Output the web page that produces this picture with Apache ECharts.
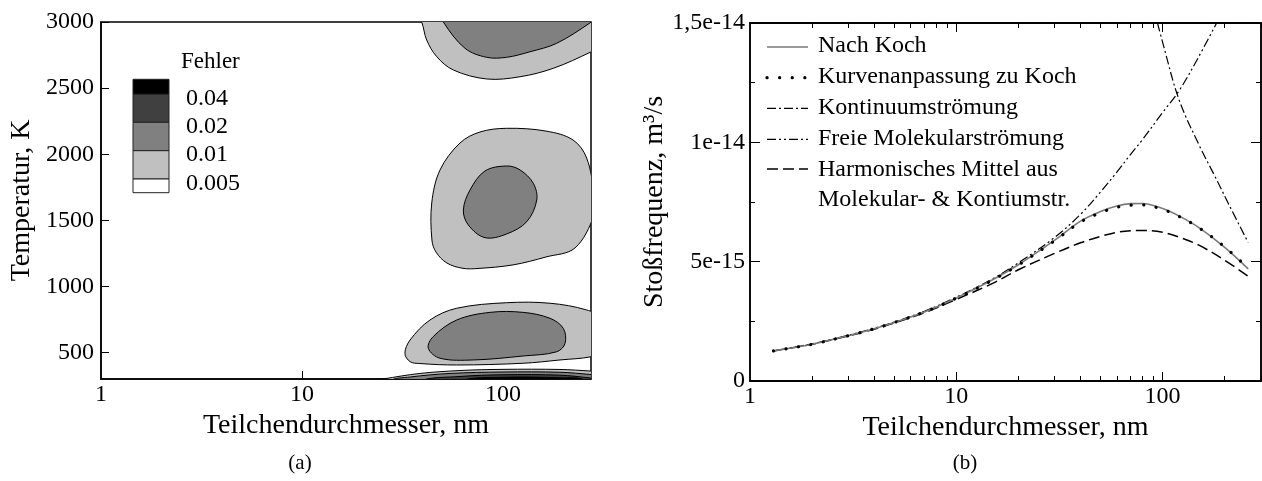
<!DOCTYPE html>
<html>
<head>
<meta charset="utf-8">
<script src="https://cdn.jsdelivr.net/npm/echarts@6/dist/echarts.min.js"></script>
<style>
  html, body { margin: 0; padding: 0; background: #fff; }
  #chart { width: 1262px; height: 481px; }
</style>
</head>
<body>
<div id="chart"></div>
<script>
// ---------- Panel (a): fit error over particle diameter and temperature ----------
const errorLevels = ['0.04', '0.02', '0.01', '0.005'];
const levelFills = ['#000000', '#404040', '#808080', '#c0c0c0', '#ffffff'];
const tempTicks = [500, 1000, 1500, 2000, 2500, 3000];
const diamLabelsA = [1, 10, 100];

// contour outlines, vertices as [diameter nm, temperature K]
const topOuter = [[36.5, 3090], [39.4, 3000], [41.7, 2864], [46.8, 2738], [56.6, 2637], [83, 2569], [121.6, 2586], [178, 2650], [275, 2775], [321, 2834], [321, 3090]];
const topInner = [[48.6, 3090], [50.5, 3000], [64.7, 2801], [82.9, 2733], [104.2, 2733], [136.2, 2775], [185, 2839], [275, 3000], [304, 3060], [304, 3090]];
const midOuter = [[104.3, 2196], [163.7, 2175], [222.9, 2108], [260.8, 1971], [283.6, 1692], [283.6, 1540], [228, 1291], [163.7, 1223], [112.2, 1163], [75.1, 1136], [63.2, 1137], [52.6, 1177], [46.4, 1260], [44.3, 1351], [44.2, 1631], [48.6, 1881], [61.1, 2085], [76.8, 2168]];
const midInner = [[104.3, 1911], [121.6, 1881], [141.5, 1780], [147.2, 1654], [131.3, 1490], [104.3, 1397], [81.3, 1369], [67.2, 1465], [63.5, 1578], [68.5, 1729], [81.3, 1873]];
const lowOuter = [[32.5, 494], [34.5, 595], [43.3, 746], [58.8, 835], [104.3, 877], [171.4, 873], [260.8, 822], [303.5, 761], [303.5, 504], [276.1, 469], [192.2, 444], [125.9, 419], [58.8, 406], [38.6, 417], [34.5, 431]];
const lowInner = [[42.5, 532], [44.9, 620], [58.8, 746], [86.1, 804], [125.9, 804], [171.4, 759], [199.5, 683], [203.6, 570], [185, 506], [125.9, 474], [71.2, 444], [48.6, 457]];
const bandLight = [[21.8, 281], [25.3, 300], [38.6, 342], [61.1, 364], [100, 373], [192, 372], [274, 360], [321, 353], [321, 200], [21.8, 200]];
const bandGray = [[27.4, 285], [34.5, 315], [54.5, 342], [100, 353], [192, 351], [274, 334], [321, 323], [321, 200], [27.4, 200]];
const bandDark = [[38.6, 285], [61.1, 319], [100, 332], [192, 329], [271, 308], [321, 292], [321, 200], [38.6, 200]];
const bandBlack = [[61.1, 285], [100, 313], [192, 309], [256, 292], [271, 200], [61.1, 200]];

// each region with the index of its fill in levelFills
const contourRegions = [
  [topOuter, 3], [topInner, 2],
  [midOuter, 3], [midInner, 2],
  [lowOuter, 3], [lowInner, 2],
  [bandLight, 3], [bandGray, 2], [bandDark, 1], [bandBlack, 0]
];

// ---------- Panel (b): collision frequency ----------
const diameter = [1.3, 1.5, 2, 3, 4, 5, 7, 10, 15, 20, 30, 40, 50, 60, 70, 80, 100, 120, 150, 200, 260];
// rates in units of 1e-15 m^3/s
const kochRate     = [1.26, 1.35, 1.54, 1.90, 2.19, 2.45, 2.89, 3.48, 4.24, 4.87, 5.90, 6.70, 7.10, 7.33, 7.43, 7.44, 7.23, 6.92, 6.43, 5.60, 4.70];
const fitRate      = [1.26, 1.35, 1.54, 1.90, 2.19, 2.45, 2.89, 3.47, 4.23, 4.86, 5.88, 6.66, 7.05, 7.28, 7.37, 7.38, 7.19, 6.90, 6.42, 5.62, 4.72];
const harmonicRate = [1.26, 1.35, 1.54, 1.89, 2.17, 2.43, 2.86, 3.42, 4.09, 4.66, 5.35, 5.79, 6.06, 6.23, 6.30, 6.31, 6.23, 6.03, 5.69, 5.06, 4.39];
const freeDiameter = [1.3, 1.5, 2, 3, 4, 5, 7, 10, 15, 20, 30, 40, 50, 60, 70, 80, 100, 120, 150, 200];
const freeRate     = [1.26, 1.36, 1.56, 1.92, 2.21, 2.47, 2.92, 3.51, 4.28, 4.95, 6.02, 6.98, 7.92, 8.75, 9.50, 10.12, 11.25, 12.15, 13.60, 15.65];
const contDiameter = [90, 100, 120, 150, 180, 210, 260];
const contRate     = [15.7, 14.2, 11.8, 9.9, 8.55, 7.38, 5.8];

const rateTickLabels = ['0', '5e-15', '1e-14', '1,5e-14'];
const diamLabelsB = [1, 10, 100];
const diamMajorB = [10, 100];
const diamMinorB = [2, 3, 4, 5, 6, 7, 8, 9, 20, 30, 40, 50, 60, 70, 80, 90, 200, 300];

const curveNames = ['Nach Koch', 'Kurvenanpassung zu Koch', 'Kontinuumströmung', 'Freie Molekularströmung', 'Harmonisches Mittel aus\nMolekular- & Kontiumstr.'];
const curveStyles = [
  { color: '#7a7a7a', width: 1.6, type: 'solid', cap: 'butt' },
  { color: '#000', width: 3.2, type: [0.1, 12.5], cap: 'round' },
  { color: '#000', width: 1.2, type: [9, 3, 2, 3], cap: 'butt' },
  { color: '#000', width: 1.2, type: [9, 3, 2, 3, 2, 3], cap: 'butt' },
  { color: '#000', width: 1.5, type: [11, 5], cap: 'butt' }
];

const FONT = 'Liberation Serif';
const pair = (xs, ys) => xs.map((x, i) => [x, ys[i]]);

const chart = echarts.init(document.getElementById('chart'), null, { renderer: 'canvas' });

const tickFont = { fontFamily: FONT, fontSize: 24, color: '#000' };
const nameFont = { fontFamily: FONT, fontSize: 28, color: '#000' };
const axisLine = { show: true, lineStyle: { color: '#000', width: 1.5 } };

function logAxis(grid, position, extra) {
  return Object.assign({
    type: 'log', gridIndex: grid, position: position, logBase: 10,
    min: 1, max: grid === 0 ? 274 : 300,
    axisLine: axisLine, splitLine: { show: false },
    axisTick: { show: false }, axisLabel: { show: false }
  }, extra);
}

// legend of panel (a): stacked colour boxes with level labels at their boundaries
const boxEdges = [79.3, 94.3, 122.3, 150.7, 179, 192.7];
const legendA = [];
levelFills.forEach((fill, i) => {
  legendA.push({
    type: 'rect', shape: { x: 133, y: boxEdges[i], width: 36, height: boxEdges[i + 1] - boxEdges[i] },
    style: { fill: fill, stroke: '#222', lineWidth: 1 }
  });
});
errorLevels.forEach((lab, i) => {
  legendA.push({
    type: 'text', x: 186, y: boxEdges[i + 1] + 4.5,
    style: { text: lab, font: '24px "' + FONT + '"', fill: '#000', verticalAlign: 'middle', align: 'left' }
  });
});
legendA.push({
  type: 'text', x: 181, y: 62,
  style: { text: 'Fehler', font: '23px "' + FONT + '"', fill: '#000', verticalAlign: 'middle', align: 'left' }
});

// legend of panel (b)
const legendRows = [47, 77.7, 108.3, 139.3, 169];
const legendB = [];
curveNames.forEach((name, i) => {
  const s = curveStyles[i];
  legendB.push({
    type: 'line', shape: { x1: 767, y1: legendRows[i], x2: 808, y2: legendRows[i] },
    style: { stroke: s.color, lineWidth: s.width, lineDash: s.type === 'solid' ? null : s.type, lineCap: s.cap }
  });
  legendB.push({
    type: 'text', x: 818, y: legendRows[i] - 1,
    style: { text: name, font: '24px "' + FONT + '"', fill: '#000', verticalAlign: i === 4 ? 'top' : 'middle', align: 'left', lineHeight: 30 }
  });
});
// the two-line entry starts level with its sample
legendB[legendB.length - 1].y = legendRows[4] - 14;

const panelLabels = [
  { type: 'text', x: 300, y: 463, style: { text: '(a)', font: '21px "' + FONT + '"', fill: '#000', align: 'center', verticalAlign: 'middle' } },
  { type: 'text', x: 965, y: 463, style: { text: '(b)', font: '21px "' + FONT + '"', fill: '#000', align: 'center', verticalAlign: 'middle' } }
];

function lineSeries(idx, xs, ys, z) {
  const s = curveStyles[idx];
  return {
    type: 'line', name: curveNames[idx], xAxisIndex: 1, yAxisIndex: 1,
    data: pair(xs, ys), showSymbol: false, smooth: 0.35, z: z,
    lineStyle: { color: s.color, width: s.width, type: s.type, cap: s.cap }
  };
}

const option = {
  animation: false,
  backgroundColor: '#fff',
  grid: [
    { left: 101, top: 22, width: 490, height: 357, show: true, borderColor: '#000', borderWidth: 1.5, containLabel: false, outerBoundsMode: 'none' },
    { left: 750, top: 23, width: 511, height: 358, show: true, borderColor: '#000', borderWidth: 1.5, containLabel: false, outerBoundsMode: 'none' }
  ],
  xAxis: [
    logAxis(0, 'bottom', {
      axisTick: { show: true, inside: true, length: 8, customValues: [10, 100], lineStyle: { color: '#000', width: 1 } },
      axisLabel: { show: true, customValues: diamLabelsA, margin: 4, ...tickFont },
      name: 'Teilchendurchmesser, nm', nameLocation: 'middle', nameGap: 24, nameTextStyle: nameFont
    }),
    logAxis(1, 'bottom', {
      axisTick: { show: true, inside: true, length: 9, customValues: diamMajorB, lineStyle: { color: '#000', width: 1 } },
      axisLabel: { show: true, customValues: diamLabelsB, margin: 4, ...tickFont },
      name: 'Teilchendurchmesser, nm', nameLocation: 'middle', nameGap: 26, nameTextStyle: nameFont
    }),
    logAxis(1, 'bottom', {
      axisTick: { show: true, inside: true, length: 5, customValues: diamMinorB, lineStyle: { color: '#000', width: 1 } }
    }),
    logAxis(1, 'top', {
      axisTick: { show: true, inside: true, length: 9, customValues: diamMajorB, lineStyle: { color: '#000', width: 1 } }
    }),
    logAxis(1, 'top', {
      axisTick: { show: true, inside: true, length: 5, customValues: diamMinorB, lineStyle: { color: '#000', width: 1 } }
    })
  ],
  yAxis: [
    {
      type: 'value', gridIndex: 0, position: 'left', min: 300, max: 3000,
      axisLine: axisLine, splitLine: { show: false },
      axisTick: { show: true, inside: true, length: 8, customValues: tempTicks, lineStyle: { color: '#000', width: 1 } },
      axisLabel: { show: true, customValues: tempTicks, margin: 7, ...tickFont, formatter: (v) => String(v) },
      name: 'Temperatur, K', nameLocation: 'middle', nameGap: 65, nameTextStyle: nameFont
    },
    {
      type: 'value', gridIndex: 1, position: 'left', min: 0, max: 15, interval: 5,
      axisLine: axisLine, splitLine: { show: false }, minorSplitLine: { show: false },
      axisTick: { show: true, inside: true, length: 10, lineStyle: { color: '#000', width: 1 } },
      minorTick: { show: true, splitNumber: 2, length: 5, lineStyle: { color: '#000', width: 1 } },
      axisLabel: { show: true, margin: 5, ...tickFont, formatter: (v) => rateTickLabels[Math.round(v / 5)] },
      name: 'Stoßfrequenz, m³/s', nameLocation: 'middle', nameGap: 74, nameTextStyle: nameFont
    },
    {
      type: 'value', gridIndex: 1, position: 'right', min: 0, max: 15, interval: 5,
      axisLine: axisLine, splitLine: { show: false }, minorSplitLine: { show: false },
      axisTick: { show: true, inside: true, length: 10, lineStyle: { color: '#000', width: 1 } },
      minorTick: { show: true, splitNumber: 2, length: 5, lineStyle: { color: '#000', width: 1 } },
      axisLabel: { show: false }
    }
  ],
  series: [
    {
      type: 'custom', xAxisIndex: 0, yAxisIndex: 0, z: 1,
      data: contourRegions.map((r) => [r[0][1][0], r[0][1][1]]),
      renderItem: function (params, api) {
        const region = contourRegions[params.dataIndex];
        const cs = params.coordSys;
        return {
          type: 'polygon',
          shape: { points: region[0].map((p) => api.coord(p)), smooth: 0.35 },
          style: { fill: levelFills[region[1]], stroke: '#000', lineWidth: 1 },
          clipPath: { type: 'rect', shape: { x: cs.x, y: cs.y, width: cs.width, height: cs.height } }
        };
      }
    },
    lineSeries(4, diameter, harmonicRate, 2),
    lineSeries(2, contDiameter, contRate, 2),
    lineSeries(3, freeDiameter, freeRate, 2),
    lineSeries(0, diameter, kochRate, 3),
    lineSeries(1, diameter, fitRate, 4)
  ],
  graphic: legendA.concat(legendB, panelLabels)
};

chart.setOption(option);
</script>
</body>
</html>
